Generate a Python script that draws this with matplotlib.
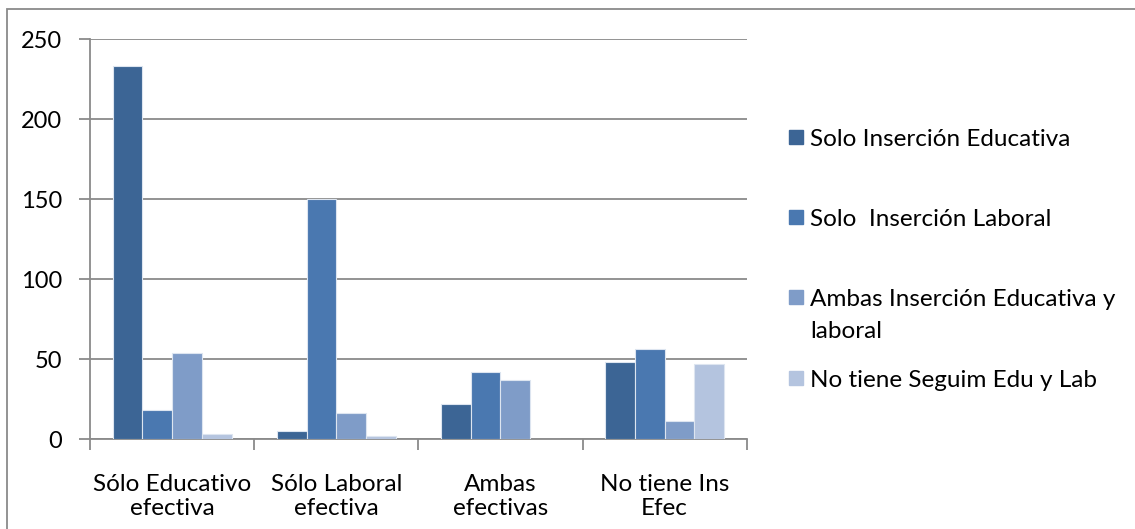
import numpy as np
import matplotlib.pyplot as plt
from matplotlib.patches import Rectangle

plt.rcParams['font.family'] = ['Lato', 'DejaVu Sans']

categorias = ['Sólo Educativo\nefectiva', 'Sólo Laboral\nefectiva',
              'Ambas\nefectivas', 'No tiene Ins\nEfec']
series = ['Solo Inserción Educativa', 'Solo  Inserción Laboral',
          'Ambas Inserción Educativa y\nlaboral', 'No tiene Seguim Edu y Lab']
solo_edu = [233, 5, 22, 48]
solo_lab = [18, 150, 42, 56]
ambas = [54, 16, 37, 11]
no_tiene = [3, 2, 0, 47]
yticks = [0, 50, 100, 150, 200, 250]

colores = ['#3c6595', '#4a78b0', '#7f9cc8', '#b4c4df']
gris = '#8a8a8a'

fig = plt.figure(figsize=(11.35, 5.29), dpi=100)
ax = fig.add_axes([0.0793, 0.1701, 0.5786, 0.7561])

# marco exterior del grafico
fig.patches.append(Rectangle((7 / 1135, -0.1), 1.2, 1 - 9 / 529 + 0.1,
                             transform=fig.transFigure, fill=False,
                             edgecolor=gris, lw=1.3))

x = np.arange(len(categorias))
w = 0.181
valores = [solo_edu, solo_lab, ambas, no_tiene]
for i, (vals, col) in enumerate(zip(valores, colores)):
    ax.bar(x + (i - 1.5) * w, vals, width=w, color=col,
           edgecolor='#dde5f0', linewidth=0.8, zorder=3)

ax.set_xlim(-0.5, 3.5)
ax.set_ylim(0, 250)
ax.set_yticks(yticks)
ax.tick_params(axis='y', length=8, width=1.3, color=gris, pad=12, labelsize=17)
ax.yaxis.grid(True, color=gris, lw=1.3, zorder=0)

ax.set_xticks(x)
ax.set_xticklabels(categorias, fontsize=17.5, linespacing=1.2)
ax.tick_params(axis='x', length=0, pad=25)
ax.set_xticks(np.arange(-0.5, 4, 1), minor=True)
ax.tick_params(axis='x', which='minor', length=8, width=1.3, color=gris)

for s in ['top', 'right']:
    ax.spines[s].set_visible(False)
for s in ['left', 'bottom']:
    ax.spines[s].set_color(gris)
    ax.spines[s].set_linewidth(1.3)

# leyenda a la derecha
ys = [137, 217, 297, 378]
for nombre, col, yp in zip(series, colores, ys):
    fig.patches.append(Rectangle((789 / 1135, 1 - (yp + 7) / 529), 14 / 1135, 14 / 529,
                                 transform=fig.transFigure, color=col))
    fig.text(810 / 1135, 1 - (yp - 8) / 529, nombre, fontsize=17.5,
             va='top', ha='left', linespacing=1.65)

fig.savefig('out.png', dpi=100)
